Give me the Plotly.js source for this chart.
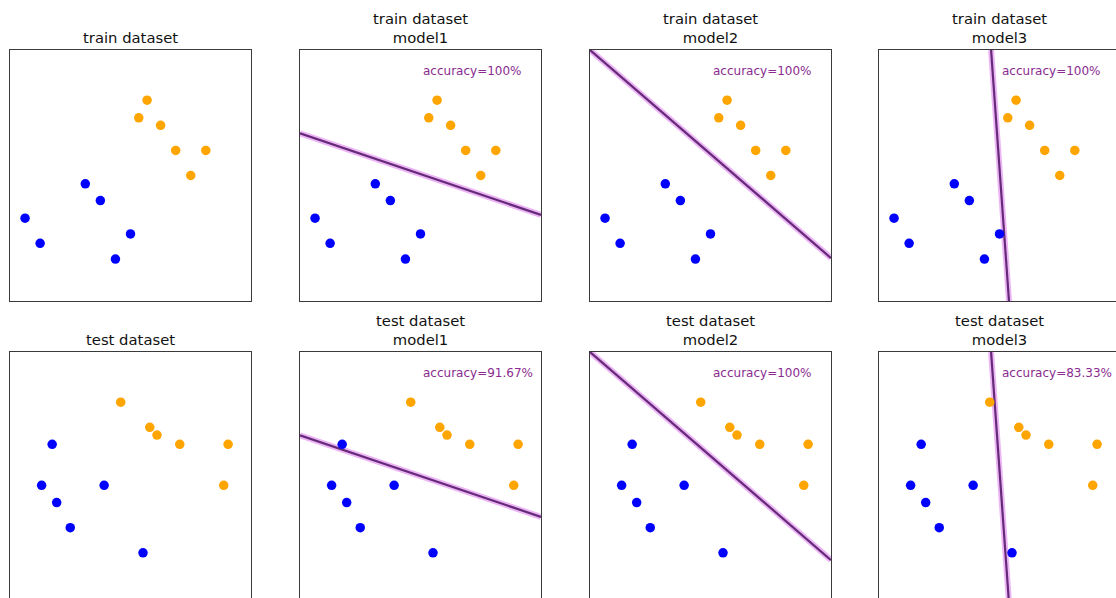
<!DOCTYPE html>
<html><head><meta charset="utf-8">
<script src="https://cdn.plot.ly/plotly-3.0.1.min.js"></script>
<style>html,body{margin:0;padding:0;overflow:hidden;background:#fff}</style>
</head><body><div id="chart"></div>
<script>
// ---- data (axis range x 0..16, y 0..10) ----
const trainBlueX   = [1.0, 2.0, 5.0, 6.0, 8.0, 7.0];
const trainBlueY   = [3.3, 2.3, 4.67, 4.0, 2.67, 1.67];
const trainOrangeX = [9.1, 8.55, 10.0, 11.0, 13.0, 12.0];
const trainOrangeY = [8.0, 7.3, 7.0, 6.0, 6.0, 5.0];

const testBlueX   = [2.8, 2.1, 3.1, 4.0, 6.25, 8.83];
const testBlueY   = [6.32, 4.69, 4.0, 3.0, 4.69, 2.0];
const testOrangeX = [7.35, 9.28, 9.76, 11.27, 14.48, 14.19];
const testOrangeY = [8.0, 7.0, 6.69, 6.32, 6.32, 4.69];

// decision boundaries (end points)
const model1X = [0, 16];   const model1Y = [6.68, 3.43];
const model2X = [0, 16];   const model2Y = [10.0, 1.71];
const model3X = [7.44, 8.63]; const model3Y = [10.0, 0.0];

const modelNames = ['model1', 'model2', 'model3'];
const trainAcc = ['accuracy=100%', 'accuracy=100%', 'accuracy=100%'];
const testAcc  = ['accuracy=91.67%', 'accuracy=100%', 'accuracy=83.33%'];
const rowNames = ['train dataset', 'test dataset'];

// ---- layout geometry (pixels) ----
const W = 1130, H = 612;
const colLeft = [10, 300, 590, 879];
const rowTop = [50, 352];
const pw = 241, ph = 251;

const models = [[model1X, model1Y], [model2X, model2Y], [model3X, model3Y]];
const traces = [];
const layout = {
  width: W, height: H,
  margin: {l: 0, r: 0, t: 0, b: 0},
  paper_bgcolor: '#fff', plot_bgcolor: '#fff',
  showlegend: false,
  font: {family: 'DejaVu Sans', color: '#111'},
  annotations: []
};

for (let r = 0; r < 2; r++) {
  const bx = r === 0 ? trainBlueX : testBlueX;
  const by = r === 0 ? trainBlueY : testBlueY;
  const ox = r === 0 ? trainOrangeX : testOrangeX;
  const oy = r === 0 ? trainOrangeY : testOrangeY;
  const acc = r === 0 ? trainAcc : testAcc;
  for (let c = 0; c < 4; c++) {
    const i = r * 4 + c + 1;
    const xa = i === 1 ? 'x' : 'x' + i;
    const ya = i === 1 ? 'y' : 'y' + i;
    const axx = {
      domain: [colLeft[c] / W, (colLeft[c] + pw) / W],
      range: [0, 16], showgrid: false, zeroline: false, showticklabels: false, ticks: '',
      showline: true, mirror: true, linecolor: '#3a3a3a', linewidth: 1, fixedrange: true,
      anchor: ya
    };
    const axy = {
      domain: [1 - (rowTop[r] + ph) / H, 1 - rowTop[r] / H],
      range: [0, 10], showgrid: false, zeroline: false, showticklabels: false, ticks: '',
      showline: true, mirror: true, linecolor: '#3a3a3a', linewidth: 1, fixedrange: true,
      anchor: xa
    };
    layout[i === 1 ? 'xaxis' : 'xaxis' + i] = axx;
    layout[i === 1 ? 'yaxis' : 'yaxis' + i] = axy;

    if (c > 0) {
      const m = models[c - 1];
      traces.push({x: m[0], y: m[1], xaxis: xa, yaxis: ya, mode: 'lines',
        line: {color: 'rgba(222,120,238,0.55)', width: 6}, hoverinfo: 'skip'});
      traces.push({x: m[0], y: m[1], xaxis: xa, yaxis: ya, mode: 'lines',
        line: {color: '#652a78', width: 2.2}, hoverinfo: 'skip'});
      layout.annotations.push({
        xref: xa + ' domain', yref: ya + ' domain', x: 0.5, y: 0.918,
        xanchor: 'left', yanchor: 'middle', showarrow: false,
        text: acc[c - 1], font: {family: 'DejaVu Sans', size: 12, color: '#8a2b8f'}
      });
    }
    traces.push({x: bx, y: by, xaxis: xa, yaxis: ya, mode: 'markers',
      marker: {color: '#0000ff', size: 9.5, line: {width: 0}}});
    traces.push({x: ox, y: oy, xaxis: xa, yaxis: ya, mode: 'markers',
      marker: {color: '#ffa500', size: 9.5, line: {width: 0}}});

    const title = c === 0 ? rowNames[r] : rowNames[r] + '<br>' + modelNames[c - 1];
    layout.annotations.push({
      xref: 'paper', yref: 'paper',
      x: (colLeft[c] + pw / 2) / W, y: 1 - (rowTop[r] - 2) / H,
      xanchor: 'center', yanchor: 'bottom', showarrow: false,
      text: title, font: {family: 'DejaVu Sans', size: 14.8, color: '#111'}
    });
  }
}

Plotly.newPlot('chart', traces, layout, {staticPlot: true, displayModeBar: false});
</script></body></html>
